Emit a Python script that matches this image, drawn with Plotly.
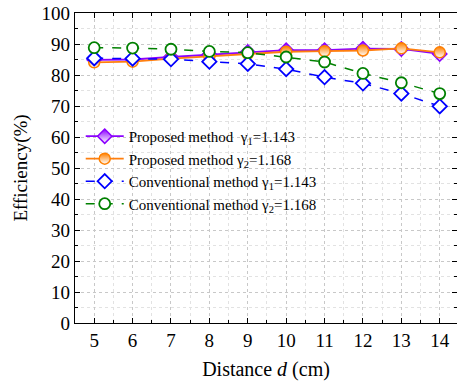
import plotly.graph_objects as go

distance = [5, 6, 7, 8, 9, 10, 11, 12, 13, 14]
proposed_g1 = [84.9, 85.0, 85.8, 86.6, 87.4, 88.0, 88.0, 88.5, 88.4, 86.8]
proposed_g2 = [84.1, 84.3, 85.3, 86.0, 86.8, 87.5, 87.7, 87.9, 88.6, 87.3]
conventional_g1 = [85.4, 85.3, 85.1, 84.3, 83.6, 81.9, 79.3, 77.3, 74.0, 69.9]
conventional_g2 = [88.8, 88.7, 88.3, 87.6, 87.2, 85.8, 84.2, 80.5, 77.5, 74.0]

names = [
    "Proposed method  γ<sub>1</sub>=1.143",
    "Proposed method γ<sub>2</sub>=1.168",
    "Conventional method γ<sub>1</sub>=1.143",
    "Conventional method γ<sub>2</sub>=1.168",
]

fig = go.Figure()
fig.add_trace(go.Scatter(
    x=distance, y=proposed_g1, name=names[0], mode="lines+markers",
    line=dict(color="#8B00FF", width=1.8),
    marker=dict(symbol="diamond", size=11, color="#8B00FF",
                gradient=dict(type="vertical", color="white"),
                line=dict(color="#8B00FF", width=1.5)),
))
fig.add_trace(go.Scatter(
    x=distance, y=proposed_g2, name=names[1], mode="lines+markers",
    line=dict(color="#FF7F0E", width=1.8),
    marker=dict(symbol="circle", size=11, color="#FF8000",
                gradient=dict(type="vertical", color="white"),
                line=dict(color="#FF8000", width=1.5)),
))
fig.add_trace(go.Scatter(
    x=distance, y=conventional_g1, name=names[2], mode="lines+markers",
    line=dict(color="#0000FF", width=1.5, dash="dash"),
    marker=dict(symbol="diamond", size=11, color="white",
                line=dict(color="#0000FF", width=1.8)),
))
fig.add_trace(go.Scatter(
    x=distance, y=conventional_g2, name=names[3], mode="lines+markers",
    line=dict(color="#008000", width=1.5, dash="dash"),
    marker=dict(symbol="circle", size=11, color="white",
                line=dict(color="#008000", width=1.8)),
))

font_family = "Liberation Serif"
fig.update_layout(
    width=457, height=390,
    margin=dict(l=75, r=0, t=13, b=67),
    paper_bgcolor="white", plot_bgcolor="white",
    font=dict(family=font_family, size=19, color="black"),
    showlegend=True,
    legend=dict(x=0.015, y=0.655, xanchor="left", yanchor="top",
                bgcolor="rgba(0,0,0,0)", font=dict(size=15, family=font_family),
                tracegroupgap=0, itemwidth=38),
)
fig.update_xaxes(
    range=[4.5, 14.45], tickmode="array", tickvals=distance,
    ticks="inside", ticklen=5, tickcolor="black",
    showline=True, linecolor="black", linewidth=1.2, mirror="allticks",
    showgrid=True, gridcolor="#c8c8c8", griddash="dot", gridwidth=1,
    minor=dict(dtick=0.5, ticks="inside", ticklen=3, tickcolor="black",
               showgrid=True, gridcolor="#e2e2e2", griddash="dot"),
    zeroline=False,
    title=dict(text="Distance <i>d</i> (cm)", standoff=12, font=dict(size=20)),
    tickfont=dict(size=19),
)
fig.update_yaxes(
    range=[0, 100], dtick=10,
    ticks="inside", ticklen=5, tickcolor="black",
    showline=True, linecolor="black", linewidth=1.2, mirror="allticks",
    showgrid=True, gridcolor="#c8c8c8", griddash="dot", gridwidth=1,
    minor=dict(dtick=5, ticks="inside", ticklen=3, tickcolor="black",
               showgrid=True, gridcolor="#e2e2e2", griddash="dot"),
    zeroline=False,
    title=dict(text="Efficiency(%)", standoff=8, font=dict(size=19)),
    tickfont=dict(size=19),
)

fig.write_html("out.html")
